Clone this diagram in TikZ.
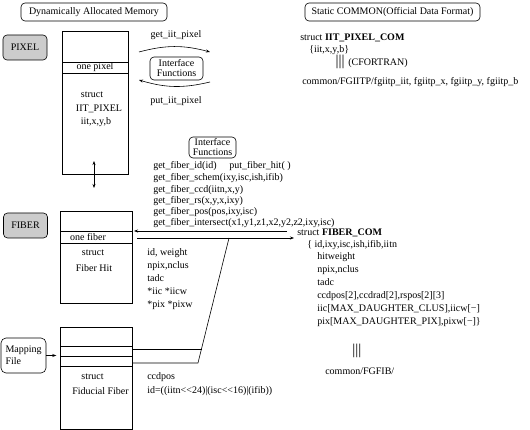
\documentclass[tikz,border=0pt]{standalone}
\usepackage{fontspec}
\setmainfont{Liberation Serif}
\usetikzlibrary{arrows.meta}
\definecolor{tagGray}{HTML}{CCCCCC}
\tikzset{
  title box/.style={draw, rounded corners=4pt, minimum height=18pt},
  tag box/.style={draw, rounded corners=4pt, fill=tagGray, minimum width=44pt, minimum height=25pt},
  iface box/.style={draw, rounded corners=4pt, align=center, font=\fontsize{10}{10}\selectfont},
  mem box/.style={draw, minimum width=72pt},
  map box/.style={draw, rounded corners=5pt, align=left, text width=36pt, inner xsep=4.5pt, minimum height=35pt, font=\fontsize{10}{12}\selectfont},
  txt/.style={anchor=west, text height=7pt, text depth=2pt},
  bars/.style={font=\fontsize{15}{15}\selectfont}
}
\begin{document}
\begin{tikzpicture}[x=1pt, y=-1pt, line width=0.6pt, >={Stealth[length=4pt,width=3pt]},
  every node/.style={inner sep=0pt, font=\fontsize{10}{11}\selectfont}]
\useasboundingbox (0,0) rectangle (530,430);
\node[title box, minimum width=146pt] (dynmem) at (94,12) {Dynamically Allocated Memory};
\node[title box, minimum width=175pt] (statcom) at (392.5,12) {Static COMMON(Official Data Format)};
\node[tag box] (pixeltag) at (25,47.5) {PIXEL};
\node[tag box] (fibertag) at (25.5,225.5) {FIBER};
\node[map box] (mapfile) at (23.5,355.5) {Mapping\\File};
\node[mem box, minimum width=66pt, minimum height=143pt] (pixmem) at (95,102.5) {};
\draw (62,62) -- (128,62) (62,73) -- (128,73);
\node (pixone) at (95,67.5) {one pixel};
\node (pixstruct) at (92,95) {struct};
\node (pixname) at (99,109) {IIT\_PIXEL};
\node (pixvars) at (96,122) {iit,x,y,b};
\node[mem box, minimum height=92pt] (fibmem) at (96,257) {};
\draw (60,231) -- (132,231) (60,243) -- (132,243);
\node (fibone) at (88,237) {one fiber};
\node (fibstruct) at (93,253) {struct};
\node (fibname) at (94,268) {Fiber Hit};
\node[mem box, minimum height=102pt] (fidmem) at (96,378) {};
\draw (60,346) -- (132,346) (60,356) -- (132,356) (60,366) -- (132,366);
\node (fidstruct) at (92.5,377) {struct};
\node (fidname) at (100.5,391) {Fiducial Fiber};
\node[iface box, minimum width=53pt, minimum height=23pt] (iface) at (176.5,68.5) {Interface\\Functions};
\node (getpix) at (176,35) {get\_iit\_pixel};
\node (putpix) at (176,101) {put\_iit\_pixel};
\node[iface box, minimum width=47pt, minimum height=21pt] (fibiface) at (212.5,147.5) {Interface\\Functions};
\node[txt] (fnid) at (153,166) {get\_fiber\_id(id)};
\node[txt] (fnhit) at (229,166) {put\_fiber\_hit( )};
\node[txt] (fnschem) at (153,178) {get\_fiber\_schem(ixy,isc,ish,ifib)};
\node[txt] (fnccd) at (153,190) {get\_fiber\_ccd(iitn,x,y)};
\node[txt] (fnrs) at (153,201) {get\_fiber\_rs(x,y,x,ixy)};
\node[txt] (fnpos) at (153,212) {get\_fiber\_pos(pos,ixy,isc)};
\node[txt] (fninter) at (153,223) {get\_fiber\_intersect(x1,y1,z1,x2,y2,z2,ixy,isc)};
\node[txt] (hitid) at (147,253) {id, weight};
\node[txt] (hitnpix) at (147,266) {npix,nclus};
\node[txt] (hittadc) at (147,279) {tadc};
\node[txt] (hitiic) at (147,292) {*iic *iicw};
\node[txt] (hitpix) at (147,305) {*pix *pixw};
\node[txt] (fidccd) at (147,377) {ccdpos};
\node[txt] (fidid) at (147,391) {id=((iitn<{}<24)|(isc<{}<16)|(ifib))};
\node[txt] (pixcom) at (300,38) {struct \textbf{IIT\_PIXEL\_COM}};
\node[txt] (pixcomvars) at (309,50) {\{iit,x,y,b\}};
\node[bars] (pixbars) at (340,62) {|||};
\node[txt] (cfortran) at (348,63) {(CFORTRAN)};
\node[txt] (pixcommon) at (302,82) {common/FGIITP/fgiitp\_iit, fgiitp\_x, fgiitp\_y, fgiitp\_b};
\node[txt] (fibcom) at (297,233) {struct \textbf{FIBER\_COM}};
\node[txt] (comid) at (307,245) {\{ id,ixy,isc,ish,ifib,iitn};
\node[txt] (comweight) at (317,257) {hitweight};
\node[txt] (comnpix) at (317,270) {npix,nclus};
\node[txt] (comtadc) at (317,283) {tadc};
\node[txt] (comccd) at (317,296) {ccdpos[2],ccdrad[2],rspos[2][3]};
\node[txt] (comiic) at (317,309) {iic[MAX\_DAUGHTER\_CLUS],iicw[−]};
\node[txt] (compix) at (317,322) {pix[MAX\_DAUGHTER\_PIX],pixw[−]\}};
\node[bars] (fibbars) at (357,351) {|||};
\node[txt] (fibcommon) at (325,372) {common/FGFIB/};
\coordinate (getL) at (139,52);
\coordinate (getR) at (210,52);
\coordinate (putR) at (210,82);
\coordinate (putL) at (139,80);
\draw[->] (getL) to[bend left=15] (getR);
\draw[->] (putR) to[bend left=15] (putL);
\coordinate (linkTop) at (94,161);
\coordinate (linkBot) at (94,188);
\draw[<->] (linkTop) -- (linkBot);
\coordinate (hitR) at (287,231);
\coordinate (hitL) at (134,231);
\draw[->] (hitR) -- (hitL);
\coordinate (comL) at (137,238);
\draw[->, shorten >=3pt] (comL) -- (comL -| fibcom.west);
\coordinate (slantTop) at (229,238);
\coordinate (slantMid) at (201.5,349);
\coordinate (slantBot) at (198,363);
\draw (slantTop) -- (slantBot) -- (slantBot -| fidmem.east);
\draw (slantMid) -- (slantMid -| fidmem.east);
\draw[->] (mapfile.east) -- ++(10,0);
\end{tikzpicture}
\end{document}
